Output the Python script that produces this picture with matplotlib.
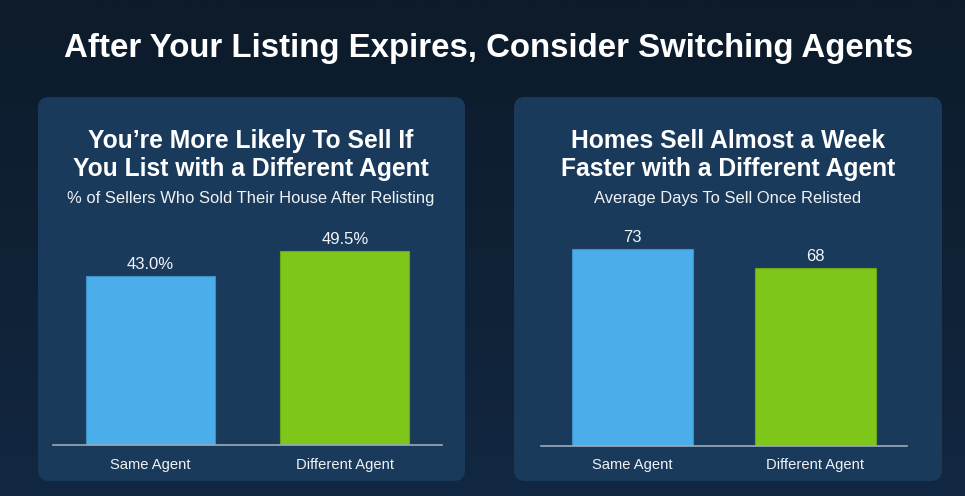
import numpy as np
import matplotlib
matplotlib.use("Agg")
import matplotlib.pyplot as plt
from matplotlib.patches import FancyBboxPatch

plt.rcParams['font.family'] = ['Liberation Sans', 'DejaVu Sans']

# Data
categories = ["Same Agent", "Different Agent"]
sold_pct = [43.0, 49.5]
days_to_sell = [73, 68]

BLUE = "#4baeea"
GREEN = "#7ec61a"
PANEL = "#1a3a5c"
W, H = 965, 496

fig = plt.figure(figsize=(W / 100, H / 100), dpi=100)

# Background in pixel coordinates
bg = fig.add_axes([0, 0, 1, 1])
bg.set_xlim(0, W)
bg.set_ylim(H, 0)
bg.axis("off")
grad = np.linspace(0, 1, 256).reshape(-1, 1)
top_c = np.array([0x0d, 0x1b, 0x2a]) / 255
bot_c = np.array([0x12, 0x27, 0x41]) / 255
img = top_c + grad[..., None] * (bot_c - top_c)
bg.imshow(np.repeat(img, 2, axis=1), extent=[0, W, H, 0], aspect="auto", zorder=0)

for x0, x1 in [(38, 465), (514, 942)]:
    bg.add_patch(FancyBboxPatch((x0, 97), x1 - x0, 481 - 97,
                                boxstyle="round,pad=0,rounding_size=11",
                                facecolor=PANEL, edgecolor="none", zorder=1))

bg.text(489, 48, "After Your Listing Expires, Consider Switching Agents",
        color="white", fontsize=23.8, fontweight="bold", ha="center", va="center")

# Panel titles
bg.text(251, 155, "You\u2019re More Likely To Sell If\nYou List with a Different Agent",
        color="white", fontsize=17.7, fontweight="bold", ha="center", va="center",
        linespacing=1.22)
bg.text(251, 199, "% of Sellers Who Sold Their House After Relisting",
        color="#eef2f6", fontsize=11.9, ha="center", va="center")
bg.text(728, 155, "Homes Sell Almost a Week\nFaster with a Different Agent",
        color="white", fontsize=17.7, fontweight="bold", ha="center", va="center",
        linespacing=1.22)
bg.text(728, 199, "Average Days To Sell Once Relisted",
        color="#eef2f6", fontsize=11.9, ha="center", va="center")


def bar_axes(px0, px1, py_bottom, py_top, values, ylim, fmt):
    ax = fig.add_axes([px0 / W, (H - py_bottom) / H,
                       (px1 - px0) / W, (py_bottom - py_top) / H])
    ax.set_facecolor("none")
    x = np.arange(len(values))
    bars = ax.bar(x, values, width=0.665, color=[BLUE, GREEN],
                  edgecolor=["#3d8fc4", "#6aa815"], linewidth=0.8)
    ax.set_xlim(-0.5, 1.5)
    ax.set_ylim(*ylim)
    for b, v in zip(bars, values):
        ax.annotate(fmt.format(v), (b.get_x() + b.get_width() / 2, v),
                    xytext=(0, 3), textcoords="offset points",
                    ha="center", va="bottom", color="#f2f5f8", fontsize=12)
    for s in ["top", "right", "left"]:
        ax.spines[s].set_visible(False)
    ax.spines["bottom"].set_color("#9aabbd")
    ax.spines["bottom"].set_linewidth(1.2)
    ax.set_yticks([])
    ax.set_xticks(x)
    ax.set_xticklabels(categories, color="#eef2f6", fontsize=10.6)
    ax.tick_params(axis="x", length=0, pad=9)
    return ax


bar_axes(53, 442, 445, 230, sold_pct, (0, 215 / 3.92), "{:.1f}%")
bar_axes(541, 907, 446, 230, days_to_sell, (21.2, 21.2 + 216 / 3.8), "{:d}")

fig.savefig("out.png", dpi=100, facecolor=fig.get_facecolor())
